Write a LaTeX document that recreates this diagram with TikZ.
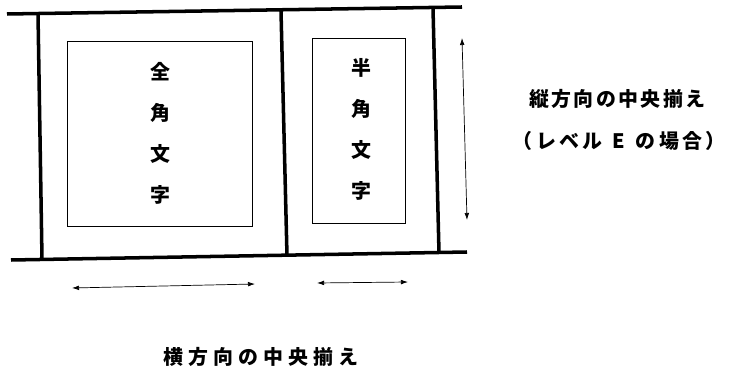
\documentclass[tikz,border=0pt]{standalone}
\usepackage{fontspec}
\usepackage{tikz}
\usetikzlibrary{arrows.meta, positioning}
\newfontfamily\cjk{Noto Sans CJK JP}[LetterSpace=12]

\begin{document}
\begin{tikzpicture}[x=0.03cm, y=-0.03cm,
            frame/.style={line width=3pt},
            charbox/.style={rectangle, draw=black, thin, inner sep=0pt},
            chars/.style={align=center, font=\cjk\bfseries\fontsize{17}{35}\selectfont},
            label/.style={align=left, inner sep=0pt, font=\cjk\bfseries\fontsize{17}{36}\selectfont},
            span/.style={{Latex[length=6pt,width=4pt]}-{Latex[length=6pt,width=4pt]}, semithick}
        ]
            \useasboundingbox (0,0) rectangle (730,376);

% Outer frame
            \coordinate (top_left) at (7,14);
            \coordinate (top_right) at (462,7);
            \coordinate (bottom_left) at (11,260);
            \coordinate (bottom_right) at (467,252);
            \draw[frame] (top_left) -- (top_right);
            \draw[frame] (bottom_left) -- (bottom_right);
            \draw[frame] (38,14) -- (42,259);
            \draw[frame] (281,11) -- (287,256);
            \draw[frame] (433,8) -- (439,253);

% Full width character
            \node[charbox, minimum width=185*0.03cm, minimum height=185*0.03cm] (full_box) at (159.5,134) {};
            \node[chars] (full_chars) at (160,133) {全\\角\\文\\字};

% Half width character
            \node[charbox, minimum width=93*0.03cm, minimum height=185*0.03cm] (half_box) at (358.5,130.5) {};
            \node[chars] (half_chars) at (361,129) {半\\角\\文\\字};

% Arrows
            \coordinate (full_left) at (72,288);
            \coordinate (full_right) at (255,284);
            \coordinate (half_left) at (317,283);
            \coordinate (half_right) at (408,282);
            \coordinate (vert_top) at (462,38);
            \coordinate (vert_bottom) at (467,220);
            \draw[span] (full_left) -- (full_right);
            \draw[span] (half_left) -- (half_right);
            \draw[span] (vert_top) -- (vert_bottom);

% Labels
            \node[label, anchor=west] (vert_label) at (529,120) {縦方向の中央揃え\\\hspace*{-14pt}\addfontfeature{LetterSpace=17}（レベル\hspace{2pt} E \hspace{2pt}の場合）};
            \node[label] (horiz_label) at (261,357) {\addfontfeature{LetterSpace=26}横方向の中央揃え};

        \end{tikzpicture}
\end{document}
